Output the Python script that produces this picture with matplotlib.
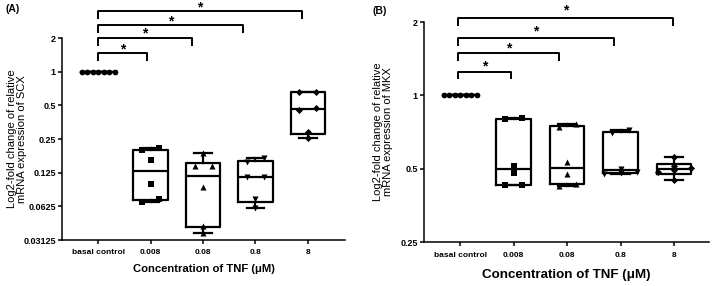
import numpy as np
import matplotlib
matplotlib.use("Agg")
import matplotlib.pyplot as plt
import matplotlib.transforms as mtransforms

plt.rcParams['font.family'] = ['Liberation Sans', 'DejaVu Sans']

# ---------------- data ----------------
categories = ["basal control", "0.008", "0.08", "0.8", "8"]
xlabel = "Concentration of TNF (\u03bcM)"

scx_basal = [1.0, 1.0, 1.0, 1.0, 1.0, 1.0, 1.0]
scx_0008 = [0.206, 0.198, 0.161, 0.099, 0.072, 0.068]
scx_008 = [0.186, 0.142, 0.142, 0.093, 0.042, 0.036]
scx_08 = [0.168, 0.155, 0.114, 0.114, 0.072, 0.060]
scx_8 = [0.66, 0.66, 0.47, 0.45, 0.287, 0.253]

mkx_basal = [1.0, 1.0, 1.0, 1.0, 1.0, 1.0, 1.0]
mkx_0008 = [0.81, 0.80, 0.514, 0.48, 0.43, 0.43]
mkx_008 = [0.76, 0.74, 0.535, 0.476, 0.433, 0.426]
mkx_08 = [0.72, 0.70, 0.50, 0.485, 0.48, 0.475]
mkx_8 = [0.56, 0.513, 0.505, 0.495, 0.485, 0.45]

scx_ticks = [2, 1, 0.5, 0.25, 0.125, 0.0625, 0.03125]
scx_ticklabels = ["2", "1", "0.5", "0.25", "0.125", "0.0625", "0.03125"]
mkx_ticks = [2, 1, 0.5, 0.25]
mkx_ticklabels = ["2", "1", "0.5", "0.25"]

comparisons = [(0, 1), (0, 2), (0, 3), (0, 4)]
stars = ["*", "*", "*", "*"]

markers = ["o", "s", "^", "v", "D"]
marker_sizes = [17, 17, 19, 19, 13]

# ---------------- figure ----------------
fig = plt.figure(figsize=(7.12, 2.86), dpi=100)
axA = fig.add_axes([62/712, 1-240/286, 283/712, 202/286])
axB = fig.add_axes([424/712, 1-242/286, 285/712, 220/286])


def box_stats(vals):
    v = np.asarray(vals, dtype=float)
    q1, med, q3 = np.percentile(v, [25, 50, 75], method="weibull")
    return dict(med=med, q1=q1, q3=q3, whislo=v.min(), whishi=v.max(), fliers=[])


def swarm_offsets(ax, xc, vals, thr_px=5.0, pair_px=17.0, max_span_px=33.0):
    vals = np.asarray(vals, dtype=float)
    pix = ax.transData.transform(np.column_stack([np.full(len(vals), xc), vals]))
    ys = pix[:, 1]
    order = np.argsort(ys)
    xs_px = np.full(len(vals), pix[0, 0])
    clusters = []
    cur = [order[0]]
    for idx in order[1:]:
        if abs(ys[idx] - ys[cur[0]]) < thr_px:
            cur.append(idx)
        else:
            clusters.append(cur)
            cur = [idx]
    clusters.append(cur)
    for cl in clusters:
        k = len(cl)
        if k > 1:
            span = min(pair_px * (k - 1), max_span_px)
            offs = np.linspace(-span / 2, span / 2, k)
            for j, idx in enumerate(cl):
                xs_px[idx] += offs[j]
    data = ax.transData.inverted().transform(np.column_stack([xs_px, ys]))
    return data[:, 0]


def panel(ax, groups, ticks, ticklabels, ylim, xlim, ylabel, br_levels, br_drop,
          br_inset, br_left, star_y, xtick_pad, xlabel_size, xlabel_pad, ylab_x):
    ax.set_yscale("log", base=2)
    ax.set_ylim(*ylim)
    ax.set_xlim(*xlim)
    pos = np.arange(len(groups))
    stats = [box_stats(g) for g in groups]
    ax.bxp(stats, positions=pos, widths=0.65, capwidths=0.34, showfliers=False,
           boxprops=dict(color="black", linewidth=1.6),
           medianprops=dict(color="black", linewidth=1.6),
           whiskerprops=dict(color="black", linewidth=1.6),
           capprops=dict(color="black", linewidth=1.6))
    for i, g in enumerate(groups):
        xs = swarm_offsets(ax, pos[i], g)
        ax.scatter(xs, g, marker=markers[i], s=marker_sizes[i], color="black",
                   zorder=5, linewidths=0)
    ax.set_yticks(ticks)
    ax.set_yticklabels(ticklabels)
    ax.yaxis.set_minor_locator(matplotlib.ticker.NullLocator())
    ax.set_xticks(pos)
    ax.set_xticklabels(categories)
    for s in ["top", "right"]:
        ax.spines[s].set_visible(False)
    for s in ["left", "bottom"]:
        ax.spines[s].set_linewidth(1.1)
    ax.tick_params(axis="both", length=3, width=1.1, color="black")
    ax.tick_params(axis="y", labelsize=6.5, pad=1.5)
    ax.tick_params(axis="x", labelsize=6, pad=xtick_pad)
    for lab in ax.get_xticklabels() + ax.get_yticklabels():
        lab.set_fontweight("bold")
    ax.set_xlabel(xlabel, fontsize=xlabel_size, fontweight="bold", labelpad=xlabel_pad)
    ax.set_ylabel(ylabel, fontsize=8.0, va="center", linespacing=1.0)
    ax.yaxis.set_label_coords(ylab_x, 0.5)
    trans = mtransforms.blended_transform_factory(ax.transData, ax.transAxes)
    for k, (i, j) in enumerate(comparisons):
        x0 = pos[i] + br_left
        x1 = pos[j] - br_inset[k]
        y = br_levels[k]
        ax.plot([x0, x0, x1, x1], [y - br_drop, y, y, y - br_drop], color="black",
                linewidth=1.4, transform=trans, clip_on=False, solid_capstyle="butt")
        ax.text((x0 + x1) / 2, star_y[k], stars[k], transform=trans, ha="center",
                va="center", fontsize=10, fontweight="bold")


panel(axA, [scx_basal, scx_0008, scx_008, scx_08, scx_8], scx_ticks, scx_ticklabels,
      (0.03125, 2), (-0.686, 4.705),
      "Log2-fold change of relative\nmRNA expression of SCX",
      [0.926, 1.0, 1.064, 1.134], 0.04, [0.07, 0.21, 0.24, 0.11], 0.0,
      [0.945, 1.02, 1.084, 1.153], 3.5, 8.1, 5.5, -0.158)

panel(axB, [mkx_basal, mkx_0008, mkx_008, mkx_08, mkx_8], mkx_ticks, mkx_ticklabels,
      (0.25, 2), (-0.673, 4.654),
      "Log2-fold change of relative\nmRNA expression of MKX",
      [0.773, 0.859, 0.927, 1.018], 0.034, [0.05, 0.15, 0.12, 0.02], -0.04,
      [0.800, 0.881, 0.959, 1.054], 4.3, 9.6, 7.0, -0.145)

fig.text(5/712, 1 - 9/286, "(A)", fontsize=7.5, fontweight="bold", va="center", ha="left")
fig.text(372/712, 1 - 11/286, "(B)", fontsize=7.5, fontweight="bold", va="center", ha="left")

fig.savefig("out.png", dpi=100)
